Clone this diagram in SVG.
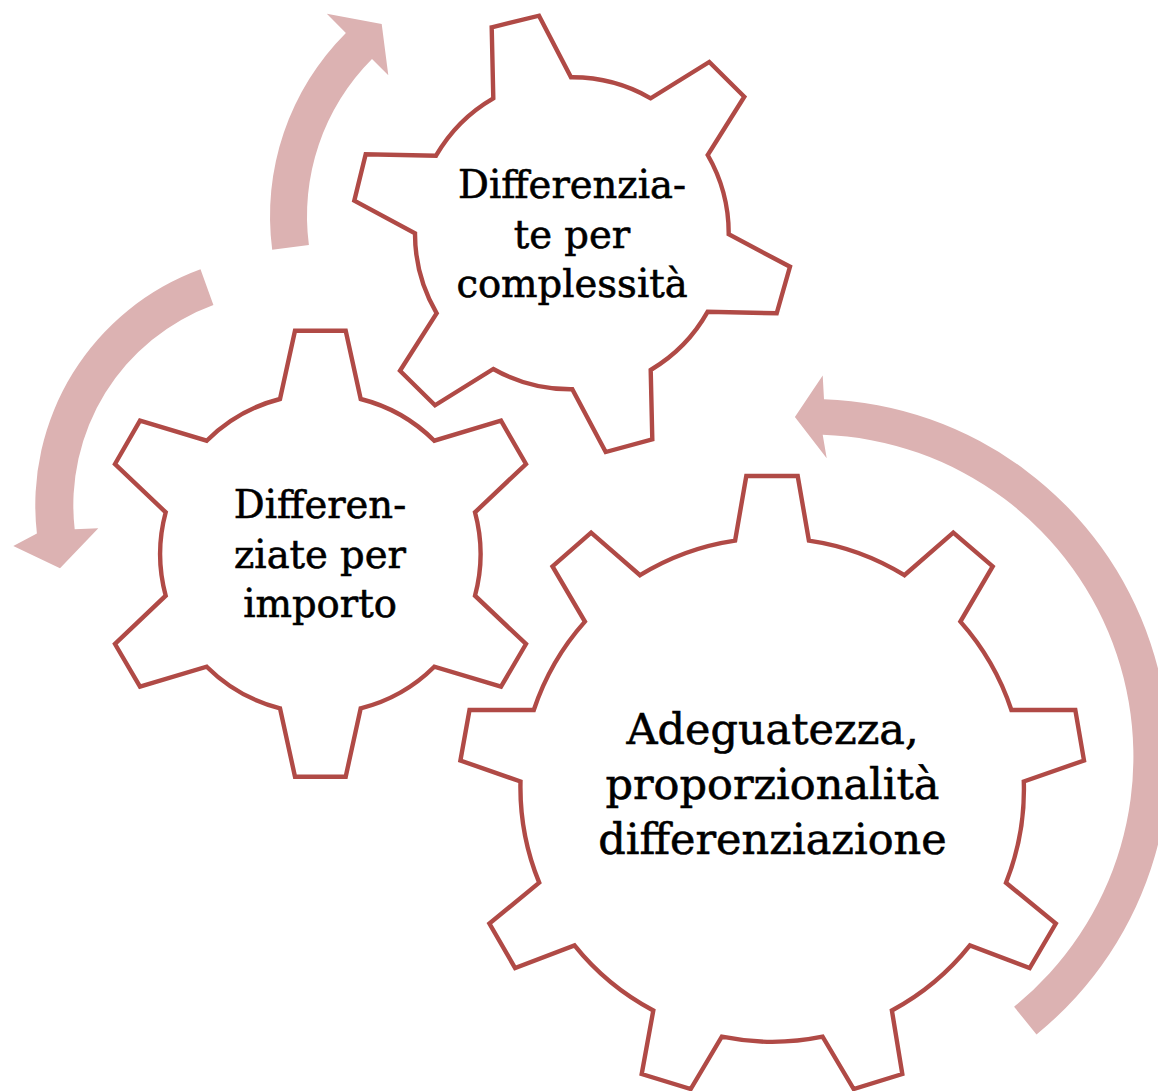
<svg xmlns="http://www.w3.org/2000/svg" width="1158" height="1091" viewBox="0 0 1158 1091">
<style>
.arrow{fill:#DCB2B2;stroke:none}
.gear{fill:#FFFFFF;stroke:#B04A46;stroke-width:4.4;stroke-linejoin:miter}
.lbl{font-family:"DejaVu Serif","Liberation Serif",serif;fill:#000;stroke:#000;stroke-width:0.6;text-anchor:middle}
.s{font-size:38.5px}
.b{font-size:43px}
</style>
<rect width="1158" height="1091" fill="#FFFFFF"/>
<g id="connectors">
<path id="arrow-top" class="arrow" d="M 272.2,249.8 A 259 259 0 0 1 345.9,32.9 L 326.8,13.8 L 381.7,24 L 388.3,75.3 L 372,59 A 222 222 0 0 0 308.9,245 Z"/>
<path id="arrow-left" class="arrow" d="M 200.5,269.3 A 251 251 0 0 0 36.9,533.6 L 13.3,546 L 60,568.3 L 98.3,528.3 L 74.7,529.3 A 213 213 0 0 1 213.4,305 Z"/>
<path id="arrow-right" class="arrow" d="M 1036.5,1034.4 A 357.5 357.5 0 0 0 824,399.3 L 822.7,375.5 L 794.9,417 L 826.7,458.3 L 822.7,434.8 A 322 322 0 0 1 1014.1,1006.8 Z"/>
</g>
<g id="gear-complessita">
<path class="gear" d="M 491.7,27.3 L 539,15.7 L 571,77.3 A 157 157 0 0 1 650.7,98.3 L 709.3,62 L 744.3,96.7 L 707.7,155 A 157 157 0 0 1 728.7,234.3 L 790,266.7 L 776.7,313.3 L 707.7,311.7 A 157 157 0 0 1 650.7,370 L 652.3,439.3 L 605.7,452 L 572.3,389.3 A 157 157 0 0 1 493.3,369 L 435,405.3 L 400,370.7 L 436.7,313.3 A 157 157 0 0 1 415,233.3 L 354.3,200.7 L 365.7,154.3 L 436,155.7 A 157 157 0 0 1 493.3,98.3 Z"/>
<text class="lbl s" x="572" y="197.5">Differenzia-</text>
<text class="lbl s" x="572" y="247.5">te per</text>
<text class="lbl s" x="572" y="297">complessità</text>
</g>
<g id="gear-importo">
<path class="gear" d="M 280,399 L 295,330.7 L 345.7,330.7 L 360.7,399 A 160 160 0 0 1 434.3,440.7 L 501,420.7 L 526,464 L 475,512.3 A 160 160 0 0 1 475,595.7 L 526,644 L 501,686.7 L 434.3,666.7 A 160 160 0 0 1 360.7,708.3 L 345.7,776.7 L 295,776.7 L 280,708.3 A 160 160 0 0 1 206.7,666.7 L 140,686.7 L 115,644 L 165.7,595.7 A 160 160 0 0 1 165.7,512.3 L 115,464 L 140,420.7 L 206.7,440.7 A 160 160 0 0 1 280,399 Z"/>
<text class="lbl s" x="320" y="518">Differen-</text>
<text class="lbl s" x="320" y="568">ziate per</text>
<text class="lbl s" x="320" y="617">importo</text>
</g>
<g id="gear-adeguatezza">
<path class="gear" d="M 735.1,540.6 L 746.3,476 L 797.7,476 L 808.9,540.6 A 252 252 0 0 1 904.4,575.2 L 953.3,532.7 L 992.7,566.4 L 960.4,621.6 A 252 252 0 0 1 1011.4,710 L 1075.3,710 L 1084,760.5 L 1023.8,781.5 A 252 252 0 0 1 1006,882.7 L 1055.8,923.6 L 1029.7,968 L 969.9,945.4 A 252 252 0 0 1 891.9,1010.5 L 902.3,1074 L 853.7,1089 L 822.6,1036.7 A 252 252 0 0 1 721.8,1036.7 L 690.7,1089 L 641.7,1074 L 653.3,1010.5 A 252 252 0 0 1 574.5,945.4 L 515.1,968 L 489.4,923.6 L 539.2,882.7 A 252 252 0 0 1 520.5,781.5 L 460.4,760.5 L 469.5,710 L 533.8,710 A 252 252 0 0 1 584.9,621.6 L 552.5,566.4 L 591.1,532.7 L 640,575.2 A 252 252 0 0 1 735.1,540.6 Z"/>
<text class="lbl b" x="772.5" y="744">Adeguatezza,</text>
<text class="lbl b" x="772.5" y="799">proporzionalità</text>
<text class="lbl b" x="772.5" y="854">differenziazione</text>
</g>
</svg>
